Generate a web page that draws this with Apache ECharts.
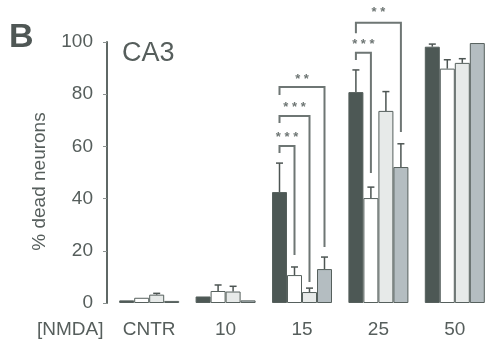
<!DOCTYPE html>
<html lang="en">
<head>
    <meta charset="UTF-8">
    <title>CA3 NMDA</title>
    <style>
        html, body { margin: 0; padding: 0; background: #fff; }
        #chart { width: 493px; height: 348px; }
    </style>
</head>
<body>
    <div id="chart"></div>
    <script src="https://cdn.jsdelivr.net/npm/echarts@6/dist/echarts.min.js"></script>
    <script type="text/javascript">
        // categories and tick values
        var categories = ['CNTR', '10', '15', '25', '50']
        var yTicks = [0, 20, 40, 60, 80, 100]

        // bar heights (% dead neurons), one array per bar series
        var dark = [1.0, 2.5, 42.5, 80.8, 98.2]
        var white = [2.0, 4.6, 10.7, 40.2, 89.8]
        var light = [3.2, 4.4, 4.2, 73.6, 92.0]
        var gray = [0.8, 1.0, 13.0, 52.1, 99.6]

        // error bar sizes (upward only)
        var darkErr = [0, 0, 11.1, 8.5, 1.0]
        var whiteErr = [0, 2.3, 3.1, 4.2, 3.4]
        var lightErr = [0.5, 2.0, 1.5, 7.4, 1.6]
        var grayErr = [0, 0, 4.6, 8.9, 0]

        // significance brackets
        var bracketCat = [2, 2, 2, 3, 3]
        var bracketFrom = [0, 0, 0, 0, 0]
        var bracketTo = [1, 2, 3, 1, 3]
        var bracketTop = [60.2, 71.6, 82.8, 95.9, 107.4]
        var bracketLeftEnd = [57.5, 69.0, 79.7, 93.1, 103.4]
        var bracketRightEnd = [18.4, 8.0, 21.5, 49.8, 65.5]
        var bracketLabel = ['* * *', '* * *', '* *', '* * *', '* *']
        var bracketLabelY = [64.4, 75.9, 87.0, 100.4, 112.3]

        var FONT = '"Liberation Sans", Arial, sans-serif'
        var TEXT = '#565e5c'
        var BAR_W = 15

        var seriesValues = [dark, white, light, gray]
        var seriesErr = [darkErr, whiteErr, lightErr, grayErr]
        var seriesColor = ['#4d5855', '#ffffff', '#e7eae9', '#b4bdc1']

        var chart = echarts.init(document.getElementById('chart'))

        // x of bar i inside category c
        function barX(api, c, i) {
            return api.coord([c, 0])[0] + (i - 1.5) * BAR_W
        }

        var bars = seriesValues.map(function (vals, i) {
            return {
                type: 'bar',
                data: vals,
                barWidth: BAR_W,
                barGap: '0%',
                itemStyle: { color: seriesColor[i], borderColor: '#56605d', borderWidth: 1 },
                silent: true
            }
        })

        // error bars
        var errData = []
        seriesValues.forEach(function (vals, i) {
            vals.forEach(function (v, c) {
                if (seriesErr[i][c] > 0) errData.push([c, i, v, seriesErr[i][c]])
            })
        })

        var errSeries = {
            type: 'custom',
            data: errData,
            z: 5,
            silent: true,
            renderItem: function (params, api) {
                var c = api.value(0), i = api.value(1)
                var x = barX(api, c, i)
                var y0 = api.coord([c, api.value(2)])[1]
                var y1 = api.coord([c, api.value(2) + api.value(3)])[1]
                var st = { stroke: '#4d5553', lineWidth: 1.5 }
                return {
                    type: 'group',
                    children: [
                        { type: 'line', shape: { x1: x, y1: y0, x2: x, y2: y1 }, style: st },
                        { type: 'line', shape: { x1: x - 3.5, y1: y1, x2: x + 3.5, y2: y1 }, style: st }
                    ]
                }
            }
        }

        var brData = bracketCat.map(function (c, k) {
            return [c, bracketFrom[k], bracketTo[k], bracketTop[k], bracketLeftEnd[k], bracketRightEnd[k], bracketLabelY[k], k]
        })

        var bracketSeries = {
            type: 'custom',
            data: brData,
            z: 6,
            silent: true,
            clip: false,
            renderItem: function (params, api) {
                var c = api.value(0)
                var xl = barX(api, c, api.value(1))
                var xr = barX(api, c, api.value(2))
                var yt = api.coord([c, api.value(3)])[1]
                var yl = api.coord([c, api.value(4)])[1]
                var yr = api.coord([c, api.value(5)])[1]
                var ys = api.coord([c, api.value(6)])[1]
                return {
                    type: 'group',
                    children: [
                        {
                            type: 'polyline',
                            shape: { points: [[xl, yl], [xl, yt], [xr, yt], [xr, yr]] },
                            style: { stroke: '#6e7674', lineWidth: 2, fill: null }
                        },
                        {
                            type: 'text',
                            style: {
                                x: (xl + xr) / 2, y: ys + 3,
                                text: bracketLabel[api.value(7)],
                                align: 'center', verticalAlign: 'middle',
                                font: 'bold 13px ' + FONT,
                                fill: '#6e7674'
                            }
                        }
                    ]
                }
            }
        }

        var option = {
            animation: false,
            textStyle: { fontFamily: FONT },
            title: [
                { text: 'B', left: 9, top: 21, padding: 0,
                  textStyle: { fontSize: 34, fontWeight: 'bold', color: '#4f5755', fontFamily: FONT } },
                { text: 'CA3', left: 122, top: 40, padding: 0,
                  textStyle: { fontSize: 27, fontWeight: 'normal', color: TEXT, fontFamily: FONT } }
            ],
            graphic: [
                { type: 'text', left: 37, top: 320,
                  style: { text: '[NMDA]', font: '19px ' + FONT, fill: TEXT } }
            ],
            grid: { left: 111, top: 42, width: 395, height: 261 },
            xAxis: {
                type: 'category',
                data: categories,
                axisLine: { show: false },
                axisTick: { show: false },
                axisLabel: { fontSize: 19, color: TEXT, margin: 17 }
            },
            yAxis: {
                type: 'value',
                min: yTicks[0],
                max: yTicks[yTicks.length - 1],
                interval: 20,
                offset: 4,
                name: '% dead neurons',
                nameLocation: 'middle',
                nameRotate: 90,
                nameGap: 58,
                nameTextStyle: { fontSize: 19, color: TEXT, padding: [0, 18, 0, 0] },
                axisLine: { show: true, lineStyle: { color: '#5f6865', width: 2 } },
                axisTick: { show: true, length: 4, lineStyle: { color: '#8a918f' } },
                axisLabel: { fontSize: 19, color: TEXT, margin: 14 },
                splitLine: { show: false }
            },
            series: bars.concat([errSeries, bracketSeries])
        }

        chart.setOption(option)
    </script>
</body>
</html>
